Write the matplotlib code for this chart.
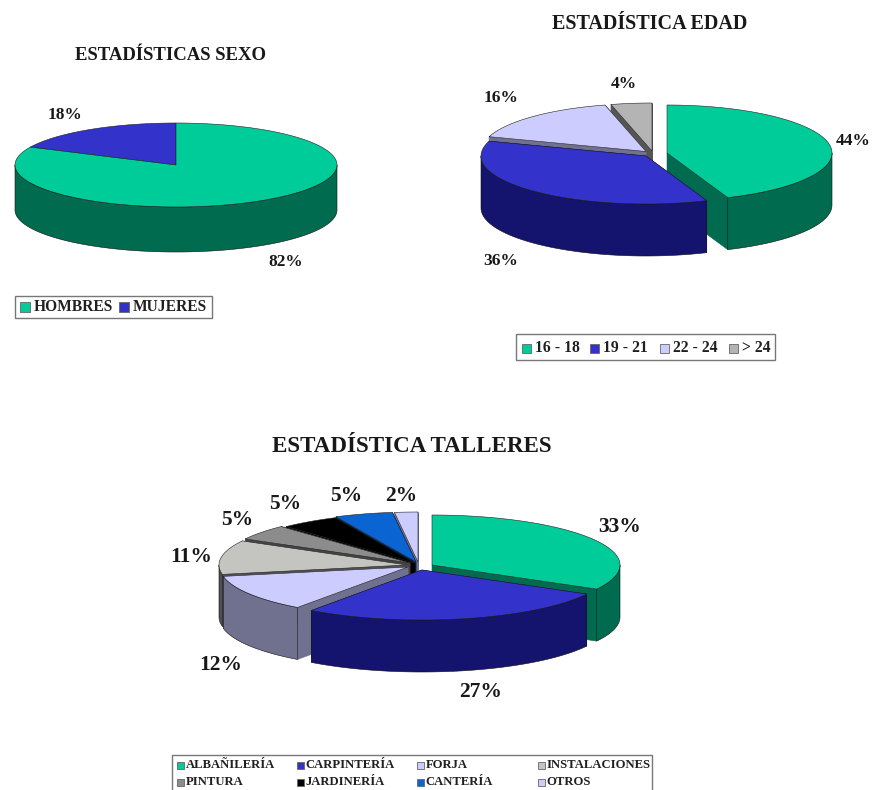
import numpy as np
import matplotlib
matplotlib.use('Agg')
import matplotlib.pyplot as plt
from matplotlib.patches import Rectangle

# data
sexo_labels = ['HOMBRES', 'MUJERES']
sexo_values = [82, 18]
edad_labels = ['16 - 18', '19 - 21', '22 - 24', '> 24']
edad_values = [44, 36, 16, 4]
talleres_labels = ['ALBAÑILERÍA', 'CARPINTERÍA', 'FORJA', 'INSTALACIONES',
                   'PINTURA', 'JARDINERÍA', 'CANTERÍA', 'OTROS']
talleres_values = [33, 27, 12, 11, 5, 5, 5, 2]

# colours: top of the slice, wall of the slice
GREEN = ('#00CC99', '#006B4F')
BLUE = ('#3333CC', '#14146E')
LILAC = ('#CCCCFF', '#70708F')
GREY = ('#B4B4B4', '#555555')
SILVER = ('#C4C4C0', '#505050')
DARK = ('#8C8C8C', '#444444')
BLACK = ('#000000', '#000000')
AZURE = ('#0A64D2', '#053070')

fig = plt.figure(figsize=(8.72, 7.9), dpi=100)
ax = fig.add_axes([0, 0, 1, 1])
ax.set_xlim(0, 872)
ax.set_ylim(790, 0)
ax.axis('off')
plt.rcParams['font.family'] = ['Liberation Serif', 'DejaVu Serif']


def ell(c, rx, ry, theta):
    # theta is clockwise from twelve o'clock, in degrees
    t = np.radians(theta)
    return c[0] + rx * np.sin(t), c[1] - ry * np.cos(t)


def pie3d(values, colors, centers, rx, ry, depth):
    ends = np.cumsum(values) / sum(values) * 360
    starts = np.concatenate([[0], ends[:-1]])
    mids = (starts + ends) / 2
    # back slices first, so the front ones cover them
    for i in np.argsort(-np.cos(np.radians(mids))):
        c = centers[i]
        top, side = colors[i]
        for a in (starts[i], ends[i]):
            x, y = ell(c, rx, ry, a)
            ax.fill([c[0], x, x, c[0]], [c[1], y, y + depth, c[1] + depth],
                    fc=side, ec=side, lw=0.4)
        lo, hi = max(starts[i], 90), min(ends[i], 270)
        if hi > lo:
            th = np.linspace(lo, hi, 120)
            x, y = ell(c, rx, ry, th)
            ax.fill(np.r_[x, x[::-1]], np.r_[y, y[::-1] + depth],
                    fc=side, ec='#101010', lw=0.4)
        th = np.linspace(starts[i], ends[i], 240)
        x, y = ell(c, rx, ry, th)
        ax.fill(np.r_[c[0], x], np.r_[c[1], y], fc=top, ec='#202020', lw=0.4)


def legend_box(x0, y0, x1, y1, names, colors, xs, ys, size, sw, gap):
    ax.add_patch(Rectangle((x0, y0), x1 - x0, y1 - y0, fc='white', ec='#777777', lw=1))
    for name, col, x, y in zip(names, colors, xs, ys):
        ax.add_patch(Rectangle((x - sw / 2, y - sw / 2), sw, sw, fc=col[0], ec='#666666', lw=0.6))
        ax.text(x + sw / 2 + gap, y, name, fontsize=size, fontweight='bold',
                ha='left', va='center', color='#202020')


def label(x, y, s, size):
    ax.text(x, y, s, fontsize=size, fontweight='bold', ha='center', va='center', color='#181818')


# sexo
pie3d(sexo_values, [GREEN, BLUE], [(176, 165)] * 2, 161, 42, 45)
label(170, 55, 'ESTADÍSTICAS SEXO', 13.5)
label(65, 115, '18%', 12.4)
label(286, 262, '82%', 12.4)
legend_box(15, 296, 212, 318, sexo_labels, [GREEN, BLUE], [25, 124], [307, 307], 11.2, 10, 4)

# edad
pie3d(edad_values, [GREEN, BLUE, LILAC, GREY],
      [(667, 153), (646, 156), (646, 151.5), (652, 151)], 165, 48, 52)
label(650, 24, 'ESTADÍSTICA EDAD', 14.5)
label(853, 141, '44%', 12.5)
label(501, 261, '36%', 12.5)
label(501, 98, '16%', 12.5)
label(624, 84, '4%', 12.5)
legend_box(516, 334, 775, 360, edad_labels, [GREEN, BLUE, LILAC, GREY],
           [526, 594, 664, 733], [348] * 4, 11.3, 9, 4)

# talleres
talleres_colors = [GREEN, BLUE, LILAC, SILVER, DARK, BLACK, AZURE, LILAC]
pie3d(talleres_values, talleres_colors,
      [(432, 565), (422, 570), (408, 567), (407, 565),
       (410, 563), (415, 563), (416, 562), (418, 562)], 188, 50, 52)
label(412, 446, 'ESTADÍSTICA TALLERES', 16.6)
label(620, 527, '33%', 15.5)
label(481, 692, '27%', 15.5)
label(221, 665, '12%', 15.5)
label(191, 557, '11%', 15.5)
label(237, 520, '5%', 15.5)
label(285, 504, '5%', 15.5)
label(346, 496, '5%', 15.5)
label(401, 496, '2%', 15.5)
legend_box(172, 755, 652, 793, talleres_labels, talleres_colors,
           [180, 300, 420, 541] * 2, [765] * 4 + [782] * 4, 9.1, 7, 2)

fig.savefig('out.png', dpi=100)
